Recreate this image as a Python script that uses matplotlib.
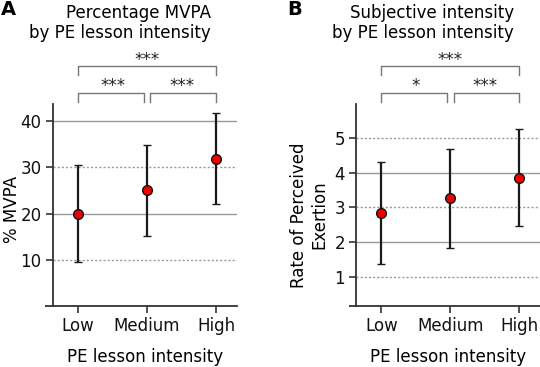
import matplotlib
matplotlib.use("Agg")
import matplotlib.pyplot as plt
import matplotlib.transforms as mtransforms
import numpy as np

plt.rcParams['font.family'] = ['DejaVu Sans']

# Data
categories = ['Low', 'Medium', 'High']

mvpa_mean = [20.0, 25.0, 31.9]
mvpa_low = [9.6, 15.1, 22.0]
mvpa_high = [30.4, 34.9, 41.8]

rpe_mean = [2.85, 3.26, 3.86]
rpe_low = [1.37, 1.82, 2.47]
rpe_high = [4.32, 4.68, 5.26]

mvpa_ticks = [10, 20, 30, 40]
rpe_ticks = [1, 2, 3, 4, 5]

# significance: (from, to, label)
mvpa_sig = [(0, 1, '***'), (1, 2, '***'), (0, 2, '***')]
rpe_sig = [(0, 1, '*'), (1, 2, '***'), (0, 2, '***')]

W, H = 540, 367
fig = plt.figure(figsize=(W / 100, H / 100), dpi=100)

spine_col = '#333333'
grid_col = '#999999'
bracket_col = '#777777'
FS = 12


def panel(ax, mean, lo, hi, ticks, solid, ylim, ylabel, ylab_pos, title, sig):
    x = np.arange(len(categories))
    mean = np.array(mean)
    err = [mean - np.array(lo), np.array(hi) - mean]
    for t in ticks:
        if t in solid:
            ax.axhline(t, color=grid_col, lw=1.0, zorder=0)
        else:
            ax.axhline(t, color=grid_col, lw=1.0, ls=(0, (1.5, 1.5)), zorder=0)
    ax.errorbar(x, mean, yerr=err, fmt='o', color='#1a1a1a', ecolor='#1a1a1a',
                elinewidth=1.6, capsize=3, capthick=1.6,
                markerfacecolor='#ee0000', markeredgecolor='#111111',
                markeredgewidth=1.0, markersize=7, zorder=3)
    ax.set_xlim(-0.37, 2.3)
    ax.set_ylim(*ylim)
    ax.set_xticks(x)
    ax.set_xticklabels(categories, fontsize=FS)
    ax.set_yticks(ticks)
    ax.tick_params(axis='both', length=5, width=1.2, color=spine_col,
                   labelsize=FS, labelcolor='#111111', pad=3)
    for s in ['top', 'right']:
        ax.spines[s].set_visible(False)
    for s in ['left', 'bottom']:
        ax.spines[s].set_color(spine_col)
        ax.spines[s].set_linewidth(1.3)
    # bottom spine runs a little past the left spine
    ax.plot([-0.04, 0], [0, 0], transform=ax.transAxes, color=spine_col,
            lw=1.3, clip_on=False, solid_capstyle='butt')
    ax.set_xlabel('PE lesson intensity', fontsize=FS)
    ax.xaxis.set_label_coords(0.5, -0.252)
    ax.xaxis.label.set_va('center')
    ax.set_ylabel(ylabel, fontsize=FS, linespacing=1.2)
    ax.yaxis.set_label_coords(*ylab_pos)
    ax.yaxis.label.set_va('center')

    trans = mtransforms.blended_transform_factory(ax.transData, ax.transAxes)
    for a, b, lab in sig:
        if b - a == 2:
            y0, y1, ys = 1.188, 1.144, 1.193
            xa, xb = a, b
        else:
            y0, y1, ys = 1.053, 1.012, 1.062
            xa = a + (0.045 if a == 1 else 0)
            xb = b - (0.045 if b == 1 else 0)
        ax.plot([xa, xa, xb, xb], [y1, y0, y0, y1], color=bracket_col, lw=1.0,
                transform=trans, clip_on=False)
        ax.text((a + b) / 2, ys, lab, transform=trans, ha='center', va='baseline',
                fontsize=12, color='#222222')
    ax.text(0.86, 1.403, title, transform=ax.transAxes, ha='right', va='center',
            multialignment='right', fontsize=FS, linespacing=1.15)


axA = fig.add_axes([52.7 / W, 1 - 306 / H, 184 / W, 202 / H])
panel(axA, mvpa_mean, mvpa_low, mvpa_high, mvpa_ticks, [20, 40], (0, 43.7),
      '% MVPA', (-0.22, 0.48), 'Percentage MVPA\nby PE lesson intensity', mvpa_sig)

axB = fig.add_axes([356 / W, 1 - 306 / H, 184 / W, 202 / H])
panel(axB, rpe_mean, rpe_low, rpe_high, rpe_ticks, [2, 4], (0.16, 5.98),
      'Rate of Perceived\nExertion', (-0.255, 0.45),
      'Subjective intensity\nby PE lesson intensity', rpe_sig)

fig.text(1 / W, 1 - 9.5 / H, 'A', fontsize=14, fontweight='bold', va='center', ha='left')
fig.text(287 / W, 1 - 9.5 / H, 'B', fontsize=14, fontweight='bold', va='center', ha='left')

fig.savefig('out.png', dpi=100)
